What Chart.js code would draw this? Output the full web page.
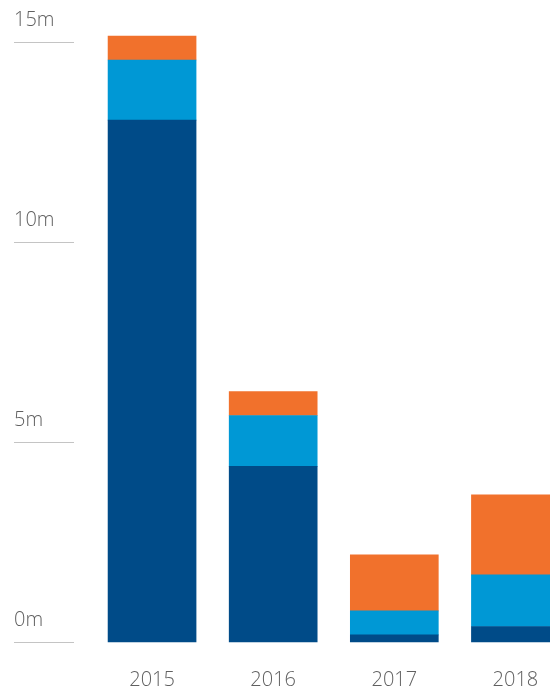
<!DOCTYPE html>
<html>
<head>
<meta charset="utf-8">
<title>Stacked totals by year</title>
<script src="https://cdn.jsdelivr.net/npm/chart.js"></script>
<style>
    html, body { margin: 0; padding: 0; background: #fff; overflow: hidden; }
    canvas { display: block; }
</style>
</head>
<body>
<canvas id="chart" width="576" height="691"></canvas>
<script>
// values in millions, stacked bottom to top
const years = ['2015', '2016', '2017', '2018'];
const baseValues = [13.05, 4.4, 0.19, 0.4];
const middleValues = [1.5, 1.27, 0.6, 1.29];
const topValues = [0.6, 0.6, 1.4, 2.0];
const yTicks = [0, 5, 10, 15];

const navy = '#004b88';
const sky = '#0098d5';
const orange = '#f1712c';
const textGrey = '#606060';

const ctx = document.getElementById('chart').getContext('2d');
new Chart(ctx, {
    type: 'bar',
    data: {
        labels: years,
        datasets: [
            { data: baseValues, backgroundColor: navy },
            { data: middleValues, backgroundColor: sky },
            { data: topValues, backgroundColor: orange }
        ]
    },
    options: {
        responsive: false,
        animation: false,
        layout: { padding: { left: 14, top: 42, right: 0, bottom: 0 } },
        datasets: { bar: { barThickness: 88, clip: false, borderWidth: 0 } },
        plugins: { legend: { display: false }, tooltip: { enabled: false } },
        scales: {
            x: {
                stacked: true,
                afterFit: scale => { scale.height = 48.5; },
                grid: { display: false, drawTicks: false },
                border: { display: false },
                ticks: {
                    color: textGrey,
                    padding: 25.5,
                    font: { family: 'Open Sans', size: 20, weight: 300 }
                }
            },
            y: {
                stacked: true,
                min: yTicks[0],
                max: yTicks[yTicks.length - 1],
                afterBuildTicks: scale => { scale.ticks = yTicks.map(v => ({ value: v })); },
                afterFit: scale => { scale.width = 77.5; },
                border: { display: false },
                grid: {
                    drawOnChartArea: false,
                    drawTicks: true,
                    tickLength: 77.5,
                    tickColor: '#c4c4c4',
                    tickWidth: 1,
                    tickBorderDash: [60, 100]
                },
                ticks: {
                    crossAlign: 'far',
                    labelOffset: -22,
                    color: textGrey,
                    font: { family: 'Open Sans', size: 20, weight: 300 },
                    callback: v => v + 'm'
                }
            }
        }
    }
});
</script>
</body>
</html>
